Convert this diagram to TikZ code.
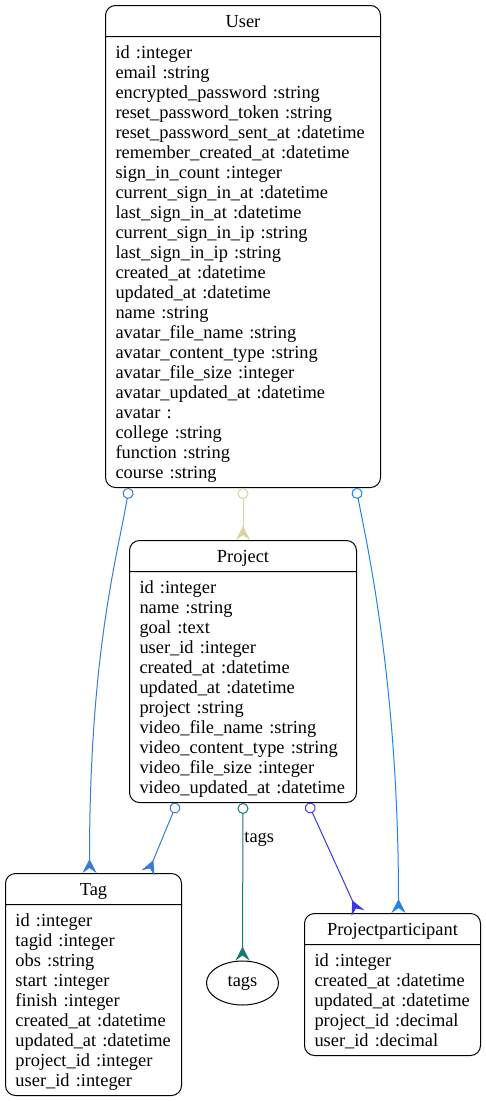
\documentclass[tikz,border=0pt]{standalone}
\usepackage{fontspec}
\setmainfont{Liberation Serif}
\usetikzlibrary{shapes.multipart,shapes.geometric,arrows.meta}
\definecolor{rel_blue}{RGB}{58,123,213}
\definecolor{rel_khaki}{RGB}{217,210,162}
\definecolor{rel_sky}{RGB}{30,132,232}
\definecolor{rel_teal}{RGB}{22,122,112}
\definecolor{rel_indigo}{RGB}{58,58,228}
\newcommand{\rowstrut}{\rule[-4pt]{0pt}{20pt}}

\begin{document}
\begin{tikzpicture}[x=1pt, y=-1pt,
    font=\fontsize{18.4}{20}\selectfont,
    entity/.style={rectangle split, rectangle split parts=2, draw, line width=1pt,
      rounded corners=10pt, align=left, inner xsep=10pt, inner ysep=5pt,
      anchor=north west},
    rel/.style={{Circle[open, length=11pt, width=11pt]}-{Stealth[reversed, length=14pt, width=14pt, inset=5pt]},
      line width=1pt}]
  \useasboundingbox (0,0) rectangle (485,1101);

  % tables
  \node[entity, text width=255pt] (User) at (105,5) {\centerline{\rowstrut User}
    \nodepart{two}\rowstrut id :integer\\
    email :string\\
    encrypted\_password :string\\
    reset\_password\_token :string\\
    reset\_password\_sent\_at :datetime\\
    remember\_created\_at :datetime\\
    sign\_in\_count :integer\\
    current\_sign\_in\_at :datetime\\
    last\_sign\_in\_at :datetime\\
    current\_sign\_in\_ip :string\\
    last\_sign\_in\_ip :string\\
    created\_at :datetime\\
    updated\_at :datetime\\
    name :string\\
    avatar\_file\_name :string\\
    avatar\_content\_type :string\\
    avatar\_file\_size :integer\\
    avatar\_updated\_at :datetime\\
    avatar :\\
    college :string\\
    function :string\\
    course :string\rowstrut};

  \node[entity, text width=207pt] (Project) at (129,540) {\centerline{\rowstrut Project}
    \nodepart{two}\rowstrut id :integer\\
    name :string\\
    goal :text\\
    user\_id :integer\\
    created\_at :datetime\\
    updated\_at :datetime\\
    project :string\\
    video\_file\_name :string\\
    video\_content\_type :string\\
    video\_file\_size :integer\\
    video\_updated\_at :datetime\rowstrut};

  \node[entity, text width=156pt] (Tag) at (5,873) {\centerline{\rowstrut Tag}
    \nodepart{two}\rowstrut id :integer\\
    tagid :integer\\
    obs :string\\
    start :integer\\
    finish :integer\\
    created\_at :datetime\\
    updated\_at :datetime\\
    project\_id :integer\\
    user\_id :integer\rowstrut};

  \node[entity, text width=156pt] (Participant) at (304,913) {\centerline{\rowstrut Projectparticipant}
    \nodepart{two}\rowstrut id :integer\\
    created\_at :datetime\\
    updated\_at :datetime\\
    project\_id :decimal\\
    user\_id :decimal\rowstrut};

  \node[ellipse, draw, line width=1pt, minimum width=72pt, minimum height=44pt] (tags) at (242.5,983) {tags};

  % relations
  \draw[rel, rel_blue] ([xshift=24pt]User.south west)
    .. controls +(-12,70) and +(0,-220) .. ([xshift=-4pt]Tag.north);
  \draw[rel, rel_khaki] (User.south) -- (Project.north);
  \draw[rel, rel_sky] ([xshift=-25pt]User.south east)
    .. controls +(14,70) and +(0,-220) .. ([xshift=6pt]Participant.north);
  \draw[rel, rel_blue] ([xshift=48pt]Project.south west) -- ([xshift=-34pt]Tag.north east);
  \draw[rel, rel_teal] (Project.south) -- (tags.north)
    node[pos=0.23, anchor=west, inner sep=1pt, text=black] {tags};
  \draw[rel, rel_indigo] ([xshift=-49pt]Project.south east) -- ([xshift=54pt]Participant.north west);
\end{tikzpicture}
\end{document}
